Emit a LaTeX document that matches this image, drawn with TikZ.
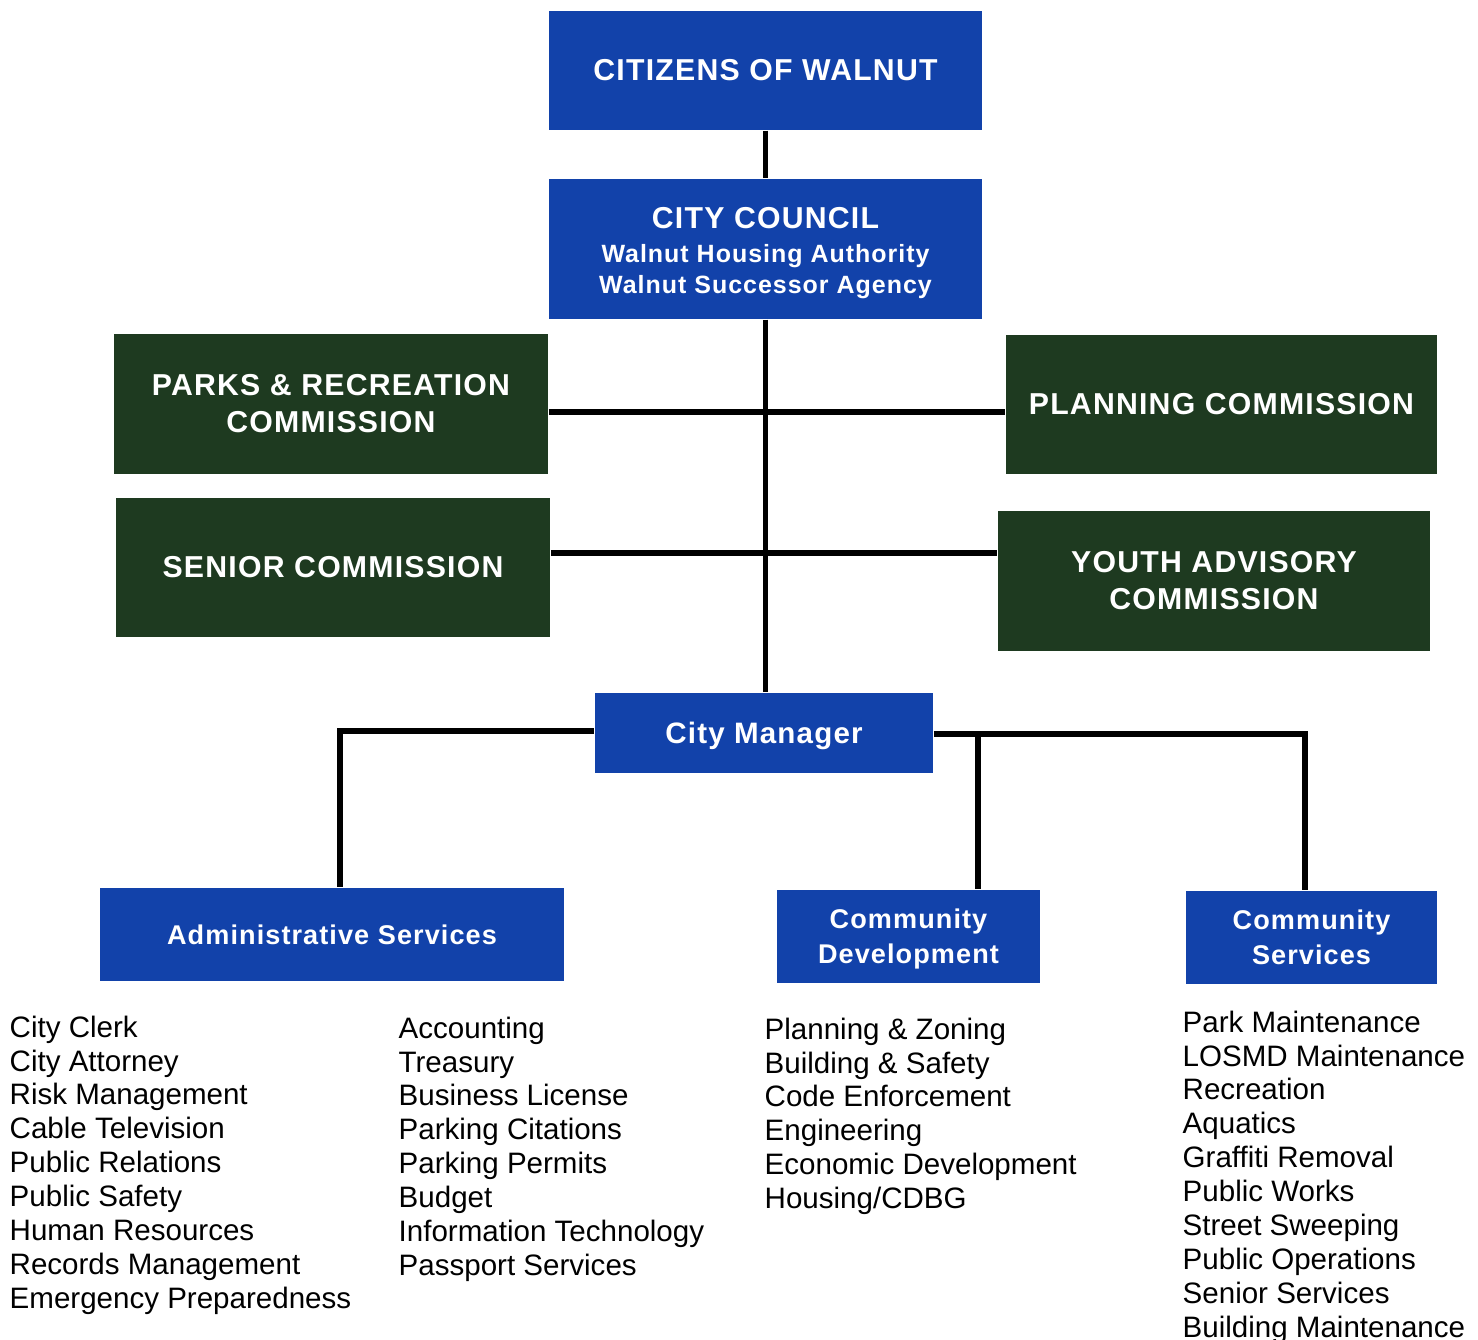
\documentclass[tikz,border=0pt]{standalone}
\usepackage{fontspec}
\setmainfont{Liberation Sans}
\newfontfamily\boxfont[LetterSpace=4]{Liberation Sans}
\definecolor{cityblue}{RGB}{18,66,170}
\definecolor{commgreen}{RGB}{30,58,32}
\begin{document}
\begin{tikzpicture}[x=0.01cm, y=-0.01cm,
  bluebox/.style={fill=cityblue, text=white, align=center, inner sep=0pt},
  greenbox/.style={fill=commgreen, text=white, align=center, inner sep=0pt},
  caps/.style={font=\boxfont\bfseries\fontsize{8.6}{10.5}\selectfont},
  lower/.style={font=\boxfont\bfseries\fontsize{7.7}{9.9}\selectfont, text depth=0pt},
  list/.style={font=\fontsize{8.4}{9.64}\selectfont, align=left, anchor=north west, inner sep=0pt},
  link/.style={line width=1.7pt}]
  \useasboundingbox (0,0) rectangle (1478,1340);

  \node [bluebox, caps, minimum width=4.33cm, minimum height=1.19cm] (cw) at (765.5,70.5) {CITIZENS OF WALNUT};
  \node [bluebox, caps, minimum width=4.33cm, minimum height=1.40cm] (cc) at (765.5,249)
    {\rule{0pt}{8.4pt}CITY COUNCIL\\[-1pt] {\fontsize{7.1}{8.8}\selectfont Walnut Housing Authority}\\[-1.6pt]
     {\fontsize{7.1}{8.8}\selectfont Walnut Successor Agency}};

  \node [greenbox, caps, minimum width=4.34cm, minimum height=1.40cm] (pr) at (331,404) {PARKS \& RECREATION\\ COMMISSION};
  \node [greenbox, caps, minimum width=4.31cm, minimum height=1.39cm] (pc) at (1221.5,404.5) {PLANNING COMMISSION};
  \node [greenbox, caps, minimum width=4.34cm, minimum height=1.39cm] (sc) at (333,567.5) {SENIOR COMMISSION};
  \node [greenbox, caps, minimum width=4.32cm, minimum height=1.40cm] (ya) at (1214,581) {YOUTH ADVISORY\\ COMMISSION};

  \node [bluebox, lower, font=\boxfont\bfseries\fontsize{8.4}{10}\selectfont, minimum width=3.38cm, minimum height=0.80cm] (cm) at (764,733) {City Manager};

  \node [bluebox, lower, minimum width=4.64cm, minimum height=0.93cm] (as) at (332,934.5) {Administrative Services};
  \node [bluebox, lower, minimum width=2.63cm, minimum height=0.93cm] (cd) at (908.5,936.5) {Community\\ Development};
  \node [bluebox, lower, minimum width=2.51cm, minimum height=0.93cm] (cs) at (1311.5,937.5) {Community\\ Services};

  \coordinate (j1) at (766,412);
  \coordinate (j2) at (766,553);
  \coordinate (l1) at (340,731);
  \coordinate (r1) at (1305,734);
  \coordinate (r2) at (978,734);

  \draw [link] (cw.south) -- (cc.north);
  \draw [link] (cc.south) -- (cc.south |- cm.north);
  \draw [link] (pr.east |- j1) -- (pc.west |- j1);
  \draw [link] (sc.east |- j2) -- (ya.west |- j2);
  \draw [link] (cm.west |- l1) -- (l1) -- (l1 |- as.north);
  \draw [link] (cm.east |- r1) -- (r1) -- (r1 |- cs.north);
  \draw [link] (r2) -- (r2 |- cd.north);

  \node [list] (asl) at (9,1015) {City Clerk\\ City Attorney\\ Risk Management\\ Cable Television\\ Public Relations\\
    Public Safety\\ Human Resources\\ Records Management\\ Emergency Preparedness};
  \node [list] (asr) at (398,1016) {Accounting\\ Treasury\\ Business License\\ Parking Citations\\ Parking Permits\\
    Budget\\ Information Technology\\ Passport Services};
  \node [list] (cdl) at (764,1017) {Planning \& Zoning\\ Building \& Safety\\ Code Enforcement\\ Engineering\\
    Economic Development\\ Housing/CDBG};
  \node [list] (csl) at (1182,1010) {Park Maintenance\\ LOSMD Maintenance\\ Recreation\\ Aquatics\\ Graffiti Removal\\
    Public Works\\ Street Sweeping\\ Public Operations\\ Senior Services\\ Building Maintenance};
\end{tikzpicture}
\end{document}
